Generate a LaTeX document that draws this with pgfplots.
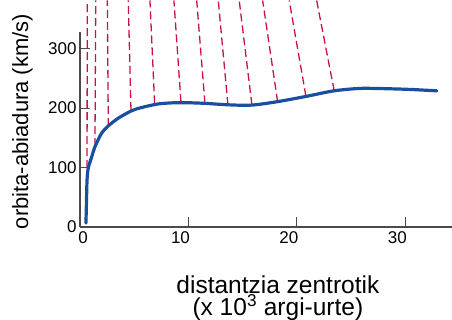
\documentclass[border=0pt]{standalone}
\usepackage{fontspec}
\setmainfont{Liberation Sans}
\usepackage{pgfplots}
\pgfplotsset{compat=1.18}
\definecolor{curveblue}{HTML}{1A4E9E}
\definecolor{dashred}{HTML}{CC1144}
\definecolor{axgray}{HTML}{4A4A4A}
\begin{document}
\begin{tikzpicture}
\begin{axis}[
  scale only axis,
  width=372pt, height=195pt,
  xmin=0, xmax=34.3, ymin=0, ymax=328,
  clip=false,
  axis lines=left,
  axis line style={axgray, line width=1.2pt, -},
  xtick={10,20,30},
  extra x ticks={0},
  extra x tick style={xticklabel style={xshift=11pt}, major tick length=0pt},
  ytick={0,100,200,300},
  tick align=inside,
  major tick length=10pt,
  tick style={axgray, line width=1pt},
  /pgf/number format/assume math mode=true,
  tick label style={font=\fontsize{17}{20}\selectfont, black},
  xticklabel style={xshift=-8pt, yshift=-1pt},
  yticklabel style={xshift=0pt},
  xlabel={distantzia zentrotik\\(x 10\textsuperscript{3} argi-urte)},
  ylabel={orbita-abiadura (km/s)},
  xlabel style={font=\fontsize{24.5}{20}\selectfont, align=center, inner sep=0pt, at={(axis description cs:0.532,-0.25)}, anchor=north},
  ylabel style={font=\fontsize{22}{24}\selectfont, inner sep=0pt, at={(axis description cs:-0.155,0.541)}, anchor=center},
]
% dashed lines (bottom on curve, top at top edge)
\addplot[dashred, line width=1.3pt, dash pattern=on 8pt off 4pt] coordinates {(0.65,99) (0.67,381)};
\addplot[dashred, line width=1.3pt, dash pattern=on 8pt off 4pt] coordinates {(1.38,136) (1.45,381)};
\addplot[dashred, line width=1.3pt, dash pattern=on 8pt off 4pt] coordinates {(2.61,170) (2.52,381)};
\addplot[dashred, line width=1.3pt, dash pattern=on 8pt off 4pt] coordinates {(4.70,197) (4.45,381)};
\addplot[dashred, line width=1.3pt, dash pattern=on 8pt off 4pt] coordinates {(6.88,208) (6.45,381)};
\addplot[dashred, line width=1.3pt, dash pattern=on 8pt off 4pt] coordinates {(9.31,210) (8.66,381)};
\addplot[dashred, line width=1.3pt, dash pattern=on 8pt off 4pt] coordinates {(11.52,208) (10.76,381)};
\addplot[dashred, line width=1.3pt, dash pattern=on 8pt off 4pt] coordinates {(13.64,205) (12.75,381)};
\addplot[dashred, line width=1.3pt, dash pattern=on 8pt off 4pt] coordinates {(15.85,205.5) (14.68,381)};
\addplot[dashred, line width=1.3pt, dash pattern=on 8pt off 4pt] coordinates {(18.22,211) (16.84,381)};
\addplot[dashred, line width=1.3pt, dash pattern=on 8pt off 4pt] coordinates {(20.83,220) (19.29,381)};
\addplot[dashred, line width=1.3pt, dash pattern=on 8pt off 4pt] coordinates {(23.44,229) (21.82,381)};
% rotation curve
\addplot[curveblue, line width=3.2pt, smooth, line cap=round] coordinates {
 (0.55,6.7) (0.60,45) (0.65,79) (0.76,99) (1.08,118) (1.38,135)
 (2.0,158) (2.61,170) (3.53,183) (4.76,195.5) (5.69,201) (7.22,207)
 (8.76,209) (9.95,209) (11.5,208) (13.7,205.5) (15.8,205) (18.1,210.5)
 (20.8,219.5) (23.4,229) (25.7,233) (27.3,233) (30.3,231.5) (32.9,229)
};
\end{axis}
\pgfresetboundingbox
\path (current axis.south west) ++(-80pt,-93pt) rectangle ++(452pt,320pt);
\end{tikzpicture}
\end{document}
